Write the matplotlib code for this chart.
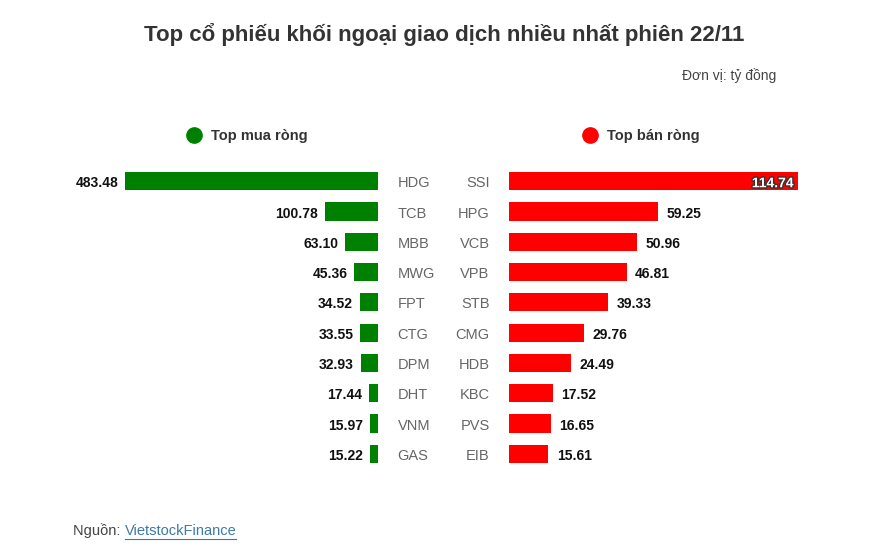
"""
Top foreign net buy / net sell stocks, session 22/11
"""
import matplotlib.pyplot as plt
import matplotlib.patheffects as pe

plt.rcParams['font.family'] = ['Liberation Sans', 'DejaVu Sans']

# DATA
buy_tickers = ['HDG', 'TCB', 'MBB', 'MWG', 'FPT', 'CTG', 'DPM', 'DHT', 'VNM', 'GAS']
buy_values = [483.48, 100.78, 63.10, 45.36, 34.52, 33.55, 32.93, 17.44, 15.97, 15.22]
sell_tickers = ['SSI', 'HPG', 'VCB', 'VPB', 'STB', 'CMG', 'HDB', 'KBC', 'PVS', 'EIB']
sell_values = [114.74, 59.25, 50.96, 46.81, 39.33, 29.76, 24.49, 17.52, 16.65, 15.61]

GREEN = '#008000'
RED = '#ff0000'
W, H = 896, 560

fig = plt.figure(figsize=(W / 100, H / 100), dpi=100)
fig.patch.set_facecolor('white')

ax_bottom = 1 - 469 / H
ax_height = 303 / H
ax_buy = fig.add_axes([125 / W, ax_bottom, 253 / W, ax_height])
ax_sell = fig.add_axes([509 / W, ax_bottom, 289 / W, ax_height])

rows = list(range(len(buy_values)))

# left side: net buy
ax_buy.barh(rows, buy_values, height=0.6, color=GREEN)
ax_buy.set_xlim(max(buy_values), 0)
for i, v in enumerate(buy_values):
    ax_buy.annotate(f"{v:.2f}", (v, i), xytext=(-5, -1.5), textcoords='offset points',
                    ha='right', va='center', fontsize=10, fontweight='bold', color='#111111')
    ax_buy.annotate(buy_tickers[i], (0, i), xytext=(14, -1.5), textcoords='offset points',
                    ha='left', va='center', fontsize=10.5, color='#666666')

# right side: net sell
ax_sell.barh(rows, sell_values, height=0.6, color=RED)
ax_sell.set_xlim(0, max(sell_values))
for i, v in enumerate(sell_values):
    if v == max(sell_values):
        ax_sell.annotate(f"{v:.2f}", (v, i), xytext=(-3, -1.5), textcoords='offset points',
                         ha='right', va='center', fontsize=10, fontweight='bold', color='white',
                         path_effects=[pe.withStroke(linewidth=2, foreground='#333333')])
    else:
        ax_sell.annotate(f"{v:.2f}", (v, i), xytext=(6, -1.5), textcoords='offset points',
                         ha='left', va='center', fontsize=10, fontweight='bold', color='#111111')
    ax_sell.annotate(sell_tickers[i], (0, i), xytext=(-14, -1.5), textcoords='offset points',
                     ha='right', va='center', fontsize=10.5, color='#666666')

for ax in (ax_buy, ax_sell):
    ax.set_ylim(len(rows) - 0.5, -0.5)
    ax.axis('off')

# titles and legend
fig.text(444 / W, 1 - 34 / H, 'Top cổ phiếu khối ngoại giao dịch nhiều nhất phiên 22/11',
         ha='center', va='center', fontsize=16, fontweight='bold', color='#333333')
fig.text(776 / W, 1 - 76 / H, 'Đơn vị: tỷ đồng', ha='right', va='center',
         fontsize=10, color='#444444')

fig.add_artist(plt.Line2D([194 / W], [1 - 135 / H], marker='o', markersize=11,
                          color=GREEN, linestyle='none'))
fig.text(211 / W, 1 - 136 / H, 'Top mua ròng', ha='left', va='center',
         fontsize=10.5, fontweight='bold', color='#333333')
fig.add_artist(plt.Line2D([590 / W], [1 - 135 / H], marker='o', markersize=11,
                          color=RED, linestyle='none'))
fig.text(607 / W, 1 - 136 / H, 'Top bán ròng', ha='left', va='center',
         fontsize=10.5, fontweight='bold', color='#333333')

# source
src = fig.text(73 / W, 1 - 531 / H, 'Nguồn: ', ha='left', va='center',
               fontsize=10.5, color='#444444')
fig.canvas.draw()
bb = src.get_window_extent()
link = fig.text(bb.x1 / W, 1 - 531 / H, 'VietstockFinance', ha='left', va='center',
                fontsize=10.5, color='#3d7aa8')
lb = link.get_window_extent()
fig.add_artist(plt.Line2D([lb.x0 / W, lb.x1 / W], [(lb.y0 - 1) / H, (lb.y0 - 1) / H],
                          color='#3d7aa8', linewidth=0.8))

plt.savefig('out.png', dpi=100, facecolor='white')
